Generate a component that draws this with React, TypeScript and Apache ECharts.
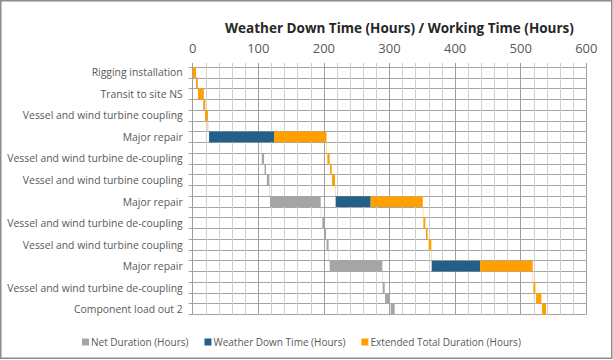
import React, { useEffect, useRef } from 'react';
import * as echarts from 'echarts';

const categories = [
  'Rigging installation', '',
  'Transit to site NS', '',
  'Vessel and wind turbine coupling', '',
  'Major repair', '',
  'Vessel and wind turbine de-coupling', '',
  'Vessel and wind turbine coupling', '',
  'Major repair', '',
  'Vessel and wind turbine de-coupling', '',
  'Vessel and wind turbine coupling', '',
  'Major repair', '',
  'Vessel and wind turbine de-coupling', '',
  'Component load out 2',
];

const seriesNames = ['Net Duration (Hours)', 'Weather Down Time (Hours)', 'Extended Total Duration (Hours)'];

// timeline without weather (grey)
const netStart = [0, 5, 8, 16.5, 19, 23, 25, 104.3, 105.3, 109.5, 113, 117, 117.8, 195.4, 197.6, 200.3, 204, 207.4, 208.8, 289, 289.6, 293.2, 301.8];
const netDuration = [5, 2.5, 8.5, 2.5, 4, 0.5, 79, 0.5, 3.5, 2.3, 3.8, 0.5, 77.3, 0.5, 3, 3, 3.2, 0.5, 80.3, 0.5, 3.1, 7.6, 6.1];

// timeline with weather (blue + orange)
const extStart = [0, 5, 8, 16.5, 19, 23, 25, 204, 205.2, 209.3, 212.4, 217, 217.9, 350.8, 351.6, 355.6, 359.6, 363.8, 364.3, 518.3, 519.3, 523.4, 532.5];
const weatherDown = [0, 0, 0, 0, 0, 0, 99, 0, 0, 0, 0, 0, 53.4, 0, 0, 0, 0, 0, 73.7, 0, 0, 0, 0];
const extendedDuration = [5, 2.5, 8.5, 2.5, 4, 0.5, 80, 0.5, 3.6, 2.5, 4.5, 0.5, 79.5, 0.5, 3, 2.5, 4.1, 0.5, 80.3, 0.5, 3.1, 8.1, 6.1];

const FONT = '"Open Sans", "Noto Sans", sans-serif';

export default function App() {
  const ref = useRef<HTMLDivElement>(null);
  useEffect(() => {
    document.body.style.margin = '0';
    const chart = echarts.init(ref.current!, null, { renderer: 'svg' });
    const barCommon = {
      type: 'bar',
      barWidth: '100%',
      barGap: '-100%',
      barCategoryGap: '0%',
      emphasis: { disabled: true },
    };
    chart.setOption({
      animation: false,
      textStyle: { fontFamily: FONT },
      title: {
        text: 'Weather Down Time (Hours) / Working Time (Hours)',
        left: 220,
        top: 16,
        textStyle: { fontSize: 13.5, fontWeight: 'bold', color: '#262626', fontFamily: FONT },
      },
      legend: {
        data: seriesNames,
        left: 77,
        top: 332,
        icon: 'rect',
        itemWidth: 7,
        itemHeight: 7,
        itemGap: 16,
        textStyle: { fontSize: 10, color: '#595959', fontFamily: FONT, padding: [0, 0, 0, -3] },
      },
      grid: { left: 192.7, right: 26.7, top: 67, bottom: 45.5, outerBoundsMode: 'none', containLabel: false },
      xAxis: {
        type: 'value',
        position: 'top',
        min: 0,
        max: 600,
        interval: 100,
        axisLine: { show: false },
        axisTick: { show: true, length: 4, lineStyle: { color: '#a0a0a0' } },
        minorTick: { show: true, splitNumber: 5, length: 4, lineStyle: { color: '#cfcfcf' } },
        axisLabel: { fontSize: 13, color: '#595959', margin: 13, fontFamily: FONT },
        splitLine: { show: true, lineStyle: { color: '#a0a0a0' } },
        minorSplitLine: { show: true, lineStyle: { color: '#d0d0d0' } },
      },
      yAxis: {
        type: 'category',
        inverse: true,
        data: categories,
        axisLine: { show: true, lineStyle: { color: '#a0a0a0' } },
        axisTick: { show: true, interval: 0, length: 4, lineStyle: { color: '#a0a0a0' } },
        axisLabel: { interval: 0, fontSize: 10.4, color: '#595959', margin: 10, fontFamily: FONT },
        splitLine: { show: true, interval: 0, lineStyle: { color: '#a6a6a6' } },
      },
      series: [
        { ...barCommon, name: 'netOffset', stack: 'net', data: netStart, silent: true, itemStyle: { color: 'transparent' } },
        { ...barCommon, name: seriesNames[0], stack: 'net', data: netDuration, itemStyle: { color: '#a5a5a5' } },
        { ...barCommon, name: 'extOffset', stack: 'ext', data: extStart, silent: true, itemStyle: { color: 'transparent' } },
        { ...barCommon, name: seriesNames[1], stack: 'ext', data: weatherDown, itemStyle: { color: '#22608a' } },
        { ...barCommon, name: seriesNames[2], stack: 'ext', data: extendedDuration, itemStyle: { color: '#ffa000' } },
      ],
      graphic: [
        {
          type: 'rect',
          silent: true,
          z: 100,
          shape: { x: 0.75, y: 0.75, width: 611, height: 357.5 },
          style: { fill: 'none', stroke: '#8c8c8c', lineWidth: 1.5 },
        },
      ],
    });
    return () => chart.dispose();
  }, []);
  return <div ref={ref} style={{ width: 613, height: 360 }} />;
}
